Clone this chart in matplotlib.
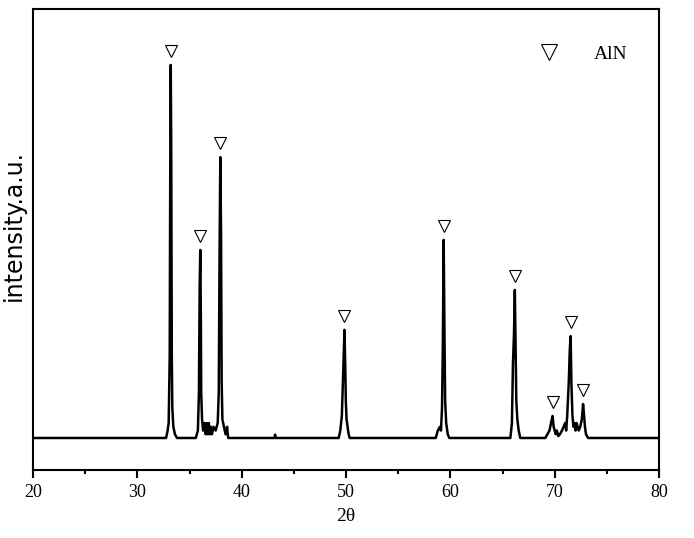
import matplotlib
matplotlib.use("Agg")
import matplotlib.pyplot as plt
from matplotlib.lines import Line2D
from matplotlib.transforms import offset_copy

# XRD trace (2theta, relative intensity)
two_theta = [
    20.0, 32.75, 32.9, 33.0, 33.1, 33.15, 33.2, 33.25, 33.3, 33.35, 33.45, 33.6, 33.8,
    35.6, 35.8, 35.9, 35.97, 36.03, 36.08, 36.12, 36.2, 36.3, 36.45, 36.55, 36.65,
    36.75, 36.85, 36.95, 37.05, 37.15, 37.3, 37.5, 37.7, 37.8, 37.88, 37.95, 38.02,
    38.08, 38.15, 38.3, 38.45, 38.6, 38.7,
    43.15, 43.2, 43.25,
    49.3, 49.45, 49.6, 49.7, 49.85, 49.92, 49.98, 50.05, 50.15, 50.25, 50.35,
    58.6, 58.8, 59.0, 59.1, 59.2, 59.28, 59.36, 59.43, 59.5, 59.6, 59.75, 59.9,
    65.75, 65.9, 66.0, 66.1, 66.18, 66.25, 66.32, 66.42, 66.55, 66.7,
    69.1, 69.3, 69.5, 69.65, 69.8, 69.9, 70.0, 70.1, 70.2, 70.35, 70.5, 70.7,
    70.85, 71.0, 71.1, 71.2, 71.35, 71.45, 71.53, 71.6, 71.7, 71.8, 71.9, 72.0,
    72.1, 72.2, 72.3, 72.45, 72.6, 72.72, 72.82, 72.9, 73.0, 73.2,
    80.0,
]
intensity = [
    0.0, 0.0, 2.0, 4.0, 22.0, 70.0, 100.0, 75.0, 22.0, 8.0, 3.0, 1.0, 0.0,
    0.0, 2.0, 12.0, 40.0, 50.4, 35.0, 12.0, 5.0, 2.0, 4.0, 1.0, 4.0,
    1.0, 4.0, 1.0, 3.0, 1.0, 3.0, 2.0, 4.0, 12.0, 50.0, 75.3, 55.0,
    15.0, 5.0, 3.0, 1.0, 3.0, 0.0,
    0.0, 0.9, 0.0,
    0.0, 2.0, 6.0, 15.0, 29.0, 20.0, 10.0, 5.0, 3.0, 1.0, 0.0,
    0.0, 2.0, 3.0, 2.0, 8.0, 25.0, 53.1, 30.0, 10.0, 4.0, 1.0, 0.0,
    0.0, 4.0, 20.0, 28.0, 39.7, 25.0, 10.0, 5.0, 2.0, 0.0,
    0.0, 1.0, 2.0, 4.0, 5.9, 3.0, 2.0, 1.0, 2.0, 0.5, 1.0, 2.0,
    3.0, 4.0, 2.0, 6.0, 15.0, 24.0, 27.3, 15.0, 6.0, 3.0, 4.0, 2.0,
    4.0, 3.0, 2.0, 3.0, 5.0, 9.1, 6.0, 3.0, 1.0, 0.0,
    0.0,
]

# AlN reflections marked with triangles
peak_pos = [33.2, 36.03, 37.95, 49.85, 59.36, 66.18, 69.8, 71.53, 72.72]
peak_int = [100.0, 50.4, 75.3, 29.0, 53.1, 39.7, 5.9, 27.3, 9.1]

x_ticks = [20, 30, 40, 50, 60, 70, 80]

serif = "Liberation Serif"

fig = plt.figure(figsize=(6.94, 5.38), dpi=100)
ax = fig.add_axes([0.0476, 0.1264, 0.9020, 0.8569])

ax.plot(two_theta, intensity, color="black", linewidth=1.8)

# triangles sit a few pixels above each peak top
marker_tr = offset_copy(ax.transData, fig=fig, x=0, y=14, units="dots")
ax.plot(peak_pos, peak_int, linestyle="none", marker="v", markersize=9,
        markerfacecolor="white", markeredgecolor="black", markeredgewidth=0.8,
        transform=marker_tr)

ax.set_xlim(20, 80)
ax.set_ylim(-8.58, 115.0)
ax.set_xticks(x_ticks)
ax.set_xticks(range(25, 80, 10), minor=True)
ax.set_yticks([])
ax.tick_params(axis="x", which="major", direction="out", length=6, width=1.5, pad=4)
ax.tick_params(axis="x", which="minor", direction="out", length=3, width=1.5)
for lbl in ax.get_xticklabels():
    lbl.set_fontfamily(serif)
    lbl.set_fontsize(13)
for sp in ax.spines.values():
    sp.set_linewidth(1.5)

ax.set_xlabel("2θ", fontfamily=serif, fontsize=14, labelpad=5)
ax.set_ylabel("intensity.a.u.", fontfamily="DejaVu Sans", fontsize=17)
ax.yaxis.set_label_coords(-0.012, 0.53)

handle = Line2D([], [], linestyle="none", marker="v", markersize=12,
                markerfacecolor="white", markeredgecolor="black", markeredgewidth=0.8)
ax.legend([handle], ["AlN"], loc="upper right", bbox_to_anchor=(0.978, 0.96),
          frameon=False, handletextpad=1.3, prop={"family": serif, "size": 14})

fig.savefig("out.png", dpi=100)
